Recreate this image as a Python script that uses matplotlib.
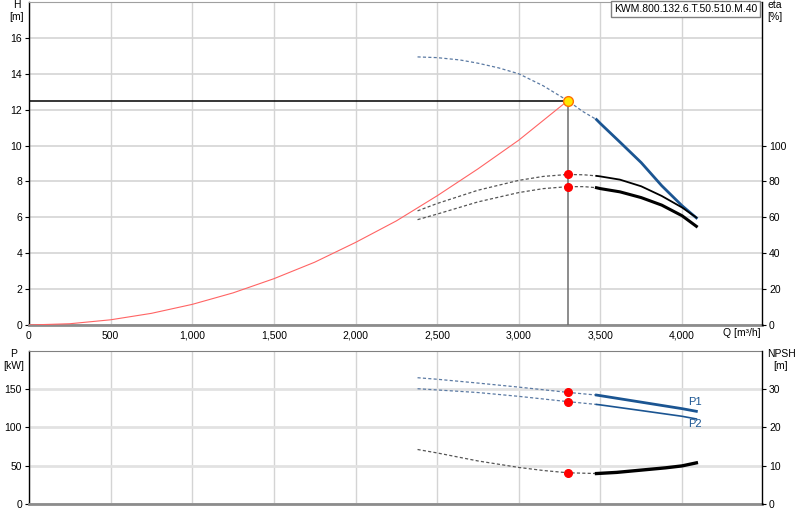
import matplotlib.pyplot as plt
from matplotlib.ticker import FuncFormatter

plt.rcParams['font.family'] = ['Liberation Sans', 'DejaVu Sans']
plt.rcParams['font.size'] = 7.5

# Betriebspunkt
q_op = 3300
h_op = 12.5

# Förderhöhe H [m]
q_h = [2380, 2500, 2640, 2750, 2876, 3000, 3150, 3300, 3392, 3476,
       3500, 3620, 3750, 3876, 4000, 4088]
h_val = [14.94, 14.9, 14.77, 14.59, 14.33, 14.0, 13.33, 12.5, 11.9, 11.45,
         11.23, 10.19, 9.05, 7.76, 6.65, 5.97]

# Anlagenkennlinie
q_sys = [0, 250, 500, 750, 1000, 1250, 1500, 1750, 2000, 2250, 2500, 2750, 3000, 3150, 3300]
h_sys = [0, 0.07, 0.29, 0.65, 1.15, 1.79, 2.58, 3.5, 4.6, 5.8, 7.2, 8.7, 10.3, 11.4, 12.5]

# Wirkungsgrade eta [%]
q_eta = [2380, 2500, 2750, 3000, 3150, 3300, 3400, 3476, 3500, 3620, 3750, 3876, 4000, 4088]
eta1 = [63.6, 67.7, 75.1, 80.6, 82.8, 83.9, 83.7, 83.1, 82.8, 81.0, 77.3, 71.9, 65.5, 59.9]
eta2 = [58.7, 61.8, 68.6, 73.8, 76.0, 77.1, 77.1, 76.5, 76.0, 74.2, 71.0, 66.8, 60.9, 55.0]
eta1_op = 83.9
eta2_op = 77.1

# Leistung P [kW]
q_p = [2380, 2500, 2750, 3000, 3300, 3476, 3500, 3750, 4000, 4088]
p1 = [165, 163, 158, 152.7, 145.8, 142.3, 141.5, 133, 124.5, 121]
p2 = [150.6, 149, 145.6, 140.6, 133.7, 130, 129.4, 122, 114.5, 111]
p1_op = 145.8
p2_op = 133.7

# NPSH [m]
q_npsh = [2380, 2500, 2750, 3000, 3150, 3300, 3476, 3600, 3750, 3900, 4000, 4088]
npsh = [14.2, 13.3, 11.2, 9.5, 8.7, 8.1, 7.9, 8.2, 8.8, 9.4, 9.9, 10.7]
npsh_op = 8.1

q_split = 3476  # Grenze gestrichelt / durchgezogen
model = 'KWM.800.132.6.T.50.510.M.40'

blue = '#1b5592'
blue_dash = '#5b7aa3'
dash = (0, (2.5, 1.8))


def split(qs, vs):
    a = [(q, v) for q, v in zip(qs, vs) if q <= q_split]
    b = [(q, v) for q, v in zip(qs, vs) if q >= q_split]
    return list(zip(*a)), list(zip(*b))


def style_axes(ax, axr):
    ax.set_xlim(0, 4490)
    ax.set_xticks(range(0, 4500, 500))
    ax.grid(True, axis='x', color='#d4d4d4', lw=1)
    ax.tick_params(axis='x', length=0, pad=4)
    ax.tick_params(axis='y', length=3, width=0.8, direction='out', pad=2)
    axr.tick_params(axis='y', length=3, width=0.8, direction='out', pad=2)
    ax.spines['left'].set_color('black')
    ax.spines['left'].set_linewidth(1)
    ax.spines['bottom'].set_color('#8c8c8c')
    ax.spines['bottom'].set_linewidth(2)
    ax.spines['top'].set_color('#a0a0a0')
    ax.spines['right'].set_visible(False)
    for s in ['left', 'top', 'bottom']:
        axr.spines[s].set_visible(False)
    axr.spines['right'].set_color('black')
    axr.spines['right'].set_linewidth(1)
    ax.set_axisbelow(True)


fig = plt.figure(figsize=(8, 5.2), dpi=100)
ax1 = fig.add_axes([29 / 800, 1 - 325 / 520, 733 / 800, 323 / 520])
ax1r = ax1.twinx()
ax2 = fig.add_axes([29 / 800, 1 - 503.7 / 520, 733 / 800, 152.7 / 520])
ax2r = ax2.twinx()

# --- oberes Diagramm ---
style_axes(ax1, ax1r)
ax1.set_ylim(0, 18)
ax1.set_yticks(range(0, 17, 2))
ax1.grid(True, axis='y', color='#d4d4d4', lw=1.2)
ax1.xaxis.set_major_formatter(FuncFormatter(lambda v, p: f'{int(v):,}'))
ax1r.set_ylim(0, 180)
ax1r.set_yticks(range(0, 101, 20))

ax1.plot(q_sys, h_sys, color='#ff6464', lw=0.8, zorder=3)
ax1.plot([0, q_op], [h_op, h_op], color='black', lw=1.1, zorder=4)
ax1.plot([q_op, q_op], [0, h_op], color='#6e6e6e', lw=1.1, zorder=4)

(hd_q, hd_v), (hs_q, hs_v) = split(q_h, h_val)
ax1.plot(hd_q, hd_v, color=blue_dash, lw=0.9, linestyle=dash, zorder=3)
ax1.plot(hs_q, hs_v, color=blue, lw=2, zorder=3)

(e1d_q, e1d_v), (e1s_q, e1s_v) = split(q_eta, eta1)
(e2d_q, e2d_v), (e2s_q, e2s_v) = split(q_eta, eta2)
ax1r.plot(e1d_q, e1d_v, color='#555555', lw=0.9, linestyle=dash)
ax1r.plot(e1s_q, e1s_v, color='black', lw=1.3)
ax1r.plot(e2d_q, e2d_v, color='#555555', lw=0.9, linestyle=dash)
ax1r.plot(e2s_q, e2s_v, color='black', lw=2.2)
ax1r.plot([q_op, q_op], [eta1_op, eta2_op], 'o', color='red', ms=5.5, mec='red')
ax1r.plot([q_op], [h_op * 10], 'o', color='#ffe600', ms=7, mec='#ff7000', mew=1)

ax1.text(0.998, -0.026, 'Q [m³/h]', transform=ax1.transAxes, ha='right', va='center')
ax1.text(0.9935, 0.9775, model, transform=ax1.transAxes, ha='right', va='center',
         bbox=dict(boxstyle='square,pad=0.3', fc='white', ec='#808080', lw=1), zorder=10)

fig.text(17 / 800, 1 - 5 / 520, 'H', ha='center', va='center')
fig.text(17 / 800, 1 - 17 / 520, '[m]', ha='center', va='center')
fig.text(775 / 800, 1 - 5 / 520, 'eta', ha='center', va='center')
fig.text(775 / 800, 1 - 17 / 520, '[%]', ha='center', va='center')

# --- unteres Diagramm ---
style_axes(ax2, ax2r)
ax2.set_ylim(0, 200)
ax2.set_yticks(range(0, 151, 50))
ax2.grid(True, axis='y', color='#e2e2e2', lw=2)
ax2.set_xticklabels([])
ax2.spines['top'].set_color('#808080')
ax2r.set_ylim(0, 40)
ax2r.set_yticks(range(0, 31, 10))

(p1d_q, p1d_v), (p1s_q, p1s_v) = split(q_p, p1)
(p2d_q, p2d_v), (p2s_q, p2s_v) = split(q_p, p2)
ax2.plot(p1d_q, p1d_v, color=blue_dash, lw=0.9, linestyle=dash)
ax2.plot(p1s_q, p1s_v, color=blue, lw=2)
ax2.plot(p2d_q, p2d_v, color=blue_dash, lw=0.9, linestyle=dash)
ax2.plot(p2s_q, p2s_v, color=blue, lw=1.2)
ax2.plot([q_op, q_op], [p1_op, p2_op], 'o', color='red', ms=5.5, mec='red', zorder=5)
ax2.text(4035, 133, 'P1', color=blue, ha='left', va='center', fontsize=8)
ax2.text(4035, 104, 'P2', color=blue, ha='left', va='center', fontsize=8)

(nd_q, nd_v), (ns_q, ns_v) = split(q_npsh, npsh)
ax2r.plot(nd_q, nd_v, color='#555555', lw=0.9, linestyle=dash)
ax2r.plot(ns_q, ns_v, color='black', lw=2.4)
ax2r.plot([q_op], [npsh_op], 'o', color='red', ms=5.5, mec='red')

fig.text(14 / 800, 1 - 354 / 520, 'P', ha='center', va='center')
fig.text(14 / 800, 1 - 366 / 520, '[kW]', ha='center', va='center')
fig.text(781 / 800, 1 - 354 / 520, 'NPSH', ha='center', va='center')
fig.text(781 / 800, 1 - 366 / 520, '[m]', ha='center', va='center')

plt.savefig('out.png', dpi=100)
